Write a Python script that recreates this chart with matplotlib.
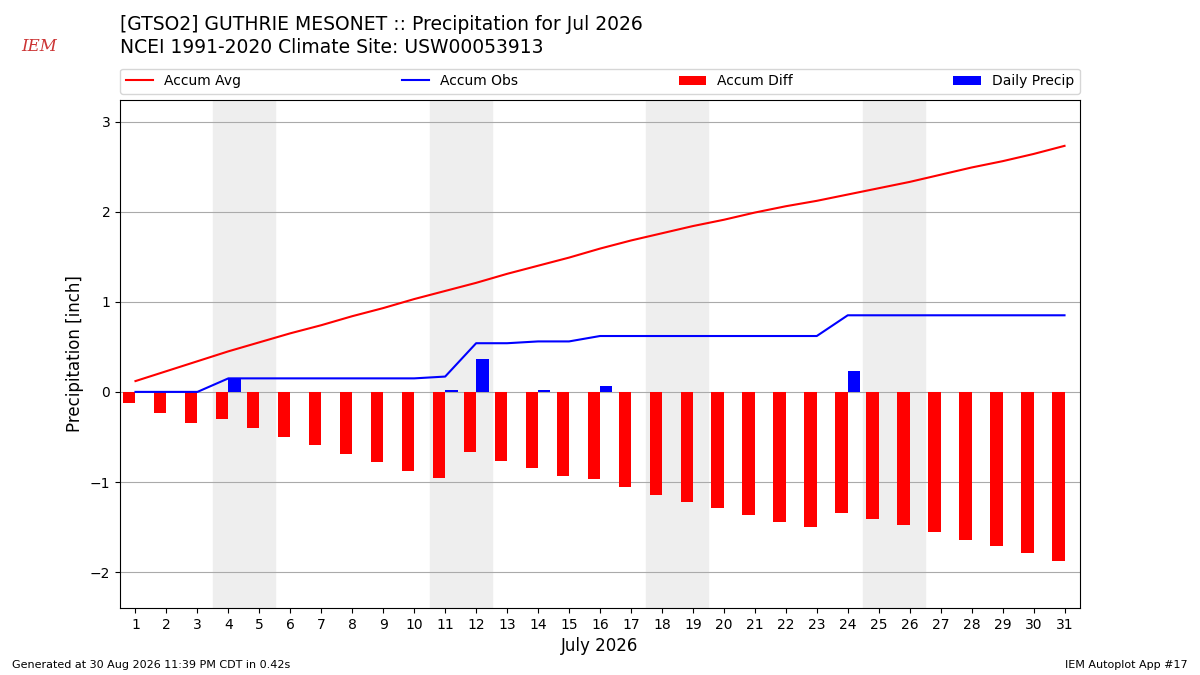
import matplotlib
matplotlib.use("Agg")
import matplotlib.pyplot as plt
import numpy as np

days = list(range(1, 32))
accum_avg = [0.12,0.23,0.34,0.45,0.55,0.65,0.74,0.84,0.93,1.03,1.12,1.21,1.31,1.40,1.49,1.59,1.68,1.76,1.84,1.91,1.99,2.06,2.12,2.19,2.26,2.33,2.41,2.49,2.56,2.64,2.73]
accum_obs = [0,0,0,0.15,0.15,0.15,0.15,0.15,0.15,0.15,0.17,0.54,0.54,0.56,0.56,0.62,0.62,0.62,0.62,0.62,0.62,0.62,0.62,0.85,0.85,0.85,0.85,0.85,0.85,0.85,0.85]
daily = [0,0,0,0.15,0,0,0,0,0,0,0.02,0.37,0,0.02,0,0.06,0,0,0,0,0,0,0,0.23,0,0,0,0,0,0,0]
weekends = [(3.5,5.5),(10.5,12.5),(17.5,19.5),(24.5,26.5)]
accum_diff = [o - a for o, a in zip(accum_obs, accum_avg)]

fig = plt.figure(figsize=(12, 6.75), dpi=100)
ax = fig.add_axes([0.1, 0.099, 0.8, 0.753])
for a, b in weekends:
    ax.axvspan(a, b, color="#eeeeee", zorder=0)
ax.plot(days, accum_avg, color="red", label="Accum Avg", zorder=3)
ax.plot(days, accum_obs, color="blue", label="Accum Obs", zorder=3)
ax.bar(days, accum_diff, width=-0.4, align="edge", color="red", label="Accum Diff", zorder=2)
ax.bar(days, daily, width=0.4, align="edge", color="blue", label="Daily Precip", zorder=2)
ax.set_xlim(0.5, 31.5)
ax.set_ylim(-2.4, 3.24)
ax.set_xticks(days)
ax.set_yticks([-2, -1, 0, 1, 2, 3])
ax.set_yticklabels(["\u22122", "\u22121", "0", "1", "2", "3"])
ax.grid(axis="y", color="#aaaaaa", zorder=1)
ax.set_axisbelow(True)
ax.set_xlabel("July 2026", fontsize=12)
ax.set_ylabel("Precipitation [inch]", fontsize=12)
ax.legend(loc="lower left", bbox_to_anchor=(0, 1.012, 1, 0.05), ncol=4, mode="expand", borderaxespad=0, fontsize=10)

fig.text(0.1, 0.947, "[GTSO2] GUTHRIE MESONET :: Precipitation for Jul 2026\nNCEI 1991-2020 Climate Site: USW00053913", fontsize=13.5, va="center", ha="left", linespacing=1.3)
fig.text(0.018, 0.925, "IEM", color="#cc3333", fontsize=12, style="italic", family="serif")
fig.text(0.01, 0.01, "Generated at 30 Aug 2026 11:39 PM CDT in 0.42s", fontsize=8)
fig.text(0.99, 0.01, "IEM Autoplot App #17", fontsize=8, ha="right")
fig.savefig("out.png", dpi=100)
